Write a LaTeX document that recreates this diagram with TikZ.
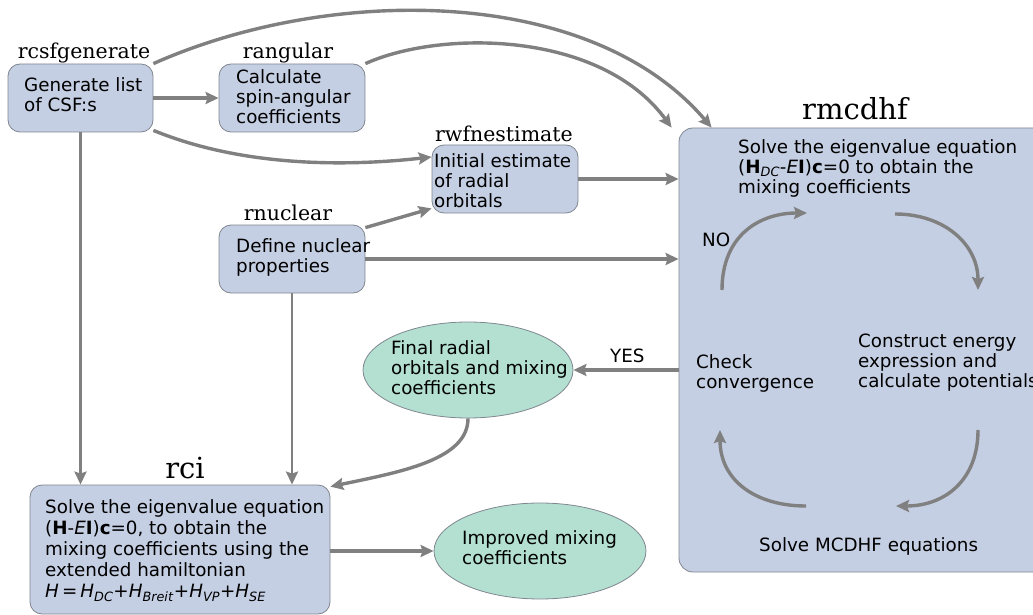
\documentclass[tikz,border=0pt]{standalone}
\usepackage{fontspec}
\setmainfont{DejaVu Sans}
\newfontfamily\labelfont{DejaVu Serif}
\usetikzlibrary{arrows.meta,calc,shapes.geometric}
\definecolor{boxfill}{HTML}{C5CFE3}
\definecolor{boxborder}{HTML}{808690}
\definecolor{ellfill}{HTML}{B3E0D0}
\definecolor{arrowgray}{HTML}{808080}
\begin{document}
\begin{tikzpicture}[x=1pt,y=-1pt,
  box/.style={draw=boxborder, fill=boxfill, rounded corners=12pt, line width=0.8pt, inner sep=0pt},
  ell/.style={draw=boxborder, fill=ellfill, ellipse, line width=0.8pt, inner sep=0pt},
  txt/.style={font=\fontsize{18.3}{20}\selectfont, align=left, anchor=north west, inner sep=0pt},
  lab/.style={font=\labelfont\fontsize{20.5}{22}\selectfont, inner sep=0pt, anchor=base},
  biglab/.style={font=\labelfont\fontsize{29}{30}\selectfont, inner sep=0pt, anchor=base},
  conn/.style={draw=arrowgray, line width=3.4pt, -{Stealth[length=13pt,width=12pt,inset=2pt]}},
  thin/.style={draw=arrowgray, line width=2.8pt, -{Stealth[length=13pt,width=12pt,inset=2pt]}}
]
\useasboundingbox (0,0) rectangle (1033,615);

% boxes
\node[box, minimum width=145pt, minimum height=68pt] (gen) at (80.5,98) {};
\node[box, minimum width=146pt, minimum height=68pt] (ang) at (292,98) {};
\node[box, minimum width=146pt, minimum height=68pt] (rwf) at (505,179) {};
\node[box, minimum width=146pt, minimum height=68pt] (nuc) at (292,259) {};
\node[box, rounded corners=14pt, minimum width=370pt, minimum height=444pt] (mc) at (864,350) {};
\node[box, minimum width=300pt, minimum height=129pt] (rci) at (180,549.5) {};
\node[ell, minimum width=210pt, minimum height=96pt] (final) at (468,370) {};
\node[ell, minimum width=212pt, minimum height=96pt] (impr) at (540,551) {};

% labels
\node[lab] (lgen) at (84,59) {rcsfgenerate};
\node[lab] (lang) at (288,59) {rangular};
\node[lab] (lrwf) at (504,142) {rwfnestimate};
\node[lab] (lnuc) at (288,220) {rnuclear};
\node[biglab] (lmc) at (855,120) {rmcdhf};
\node[biglab] (lrci) at (185,478) {rci};

% texts
\node[txt] (tgen) at (24,77) {Generate list\\of CSF:s};
\node[txt] (tang) at (236,69) {Calculate\\spin-angular\\coefficients};
\node[txt] (trwf) at (434,153) {Initial estimate\\of radial\\orbitals};
\node[txt] (tnuc) at (236,238) {Define nuclear\\properties};
\node[txt] (tmc) at (738,139) {Solve the eigenvalue equation\\(\textbf{H}\textsubscript{\textit{DC}}-\textit{E}\textbf{I})\textbf{c}=0 to obtain the\\mixing coefficients};
\node[txt] (tno) at (702,233) {NO};
\node[txt] (tcheck) at (696,354) {Check\\convergence};
\node[txt] (tcons) at (858,334) {Construct energy\\expression and\\calculate potentials};
\node[txt] (tsolve) at (759,537) {Solve MCDHF equations};
\node[txt] (tyes) at (610,349) {YES};
\node[txt] (tfinal) at (391,340) {Final radial\\orbitals and mixing\\coefficients};
\node[txt] (timpr) at (462,530) {Improved mixing\\coefficients};
\node[txt, font=\fontsize{18.3}{21.2}\selectfont] (trci) at (45,499) {Solve the eigenvalue equation\\(\textbf{H}-\textit{E}\textbf{I})\textbf{c}=0, to obtain the\\mixing coefficients using the\\extended hamiltonian\\\textit{H}\,=\,\textit{H}\textsubscript{\textit{DC}}+\textit{H}\textsubscript{\textit{Breit}}+\textit{H}\textsubscript{\textit{VP}}+\textit{H}\textsubscript{\textit{SE}}};

% connectors
\draw[conn] (gen.north east) .. controls (330,-15) and (590,-15) .. ($(mc.north west)+(33,0)$);
\draw[conn] (ang.north east) .. controls (440,30) and (600,30) .. ($(mc.north west)+(-7,0)$);
\draw[conn] (gen.east) -- (ang.west);
\draw[conn] ($(gen.south east)+(0,-2)$) .. controls (250,170) and (360,165) .. ($(rwf.west)+(0,-22)$);
\draw[conn] ($(nuc.north east)+(0,3)$) -- ($(rwf.south west)+(0,-5)$);
\draw[conn] (rwf.east) -- (mc.west |- rwf.east);
\draw[conn] (nuc.east) -- (mc.west |- nuc.east);
\draw[thin] (gen.south) -- (rci.north -| gen.south);
\draw[thin] (nuc.south) -- (rci.north -| nuc.south);
\draw[conn] (mc.west |- final.east) -- (final.east);
\draw[conn] (final.south) .. controls (468,460) and (400,472) .. ($(rci.north east)+(0,2)$);
\draw[conn] (rci.east |- impr.west) -- (impr.west);

% cycle inside rmcdhf
\coordinate (c1a) at (722,290);
\coordinate (c1b) at (807,213);
\coordinate (c2a) at (895,214);
\coordinate (c2b) at (978,290);
\coordinate (c3a) at (978,430);
\coordinate (c3b) at (896,506);
\coordinate (c4a) at (806,506);
\coordinate (c4b) at (720,430);
\draw[conn] (c1a) .. controls (722,235) and (760,213) .. (c1b);
\draw[conn] (c2a) .. controls (945,214) and (978,245) .. (c2b);
\draw[conn] (c3a) .. controls (978,480) and (945,506) .. (c3b);
\draw[conn] (c4a) .. controls (755,506) and (720,480) .. (c4b);
\end{tikzpicture}
\end{document}
